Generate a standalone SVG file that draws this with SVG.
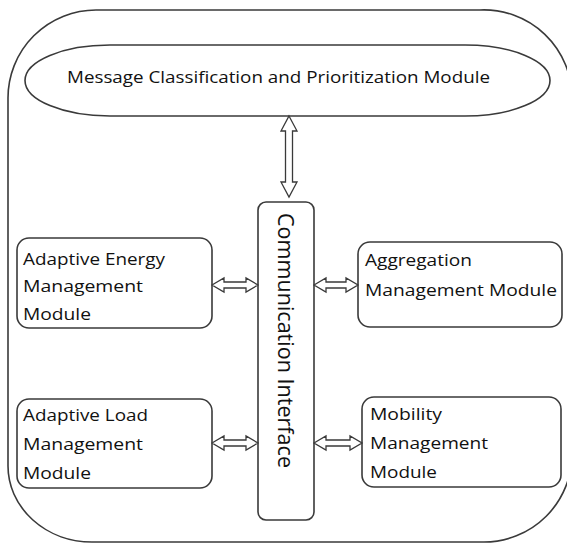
<svg xmlns="http://www.w3.org/2000/svg" width="567" height="543" viewBox="0 0 567 543">
<style>
  .frame{fill:none;stroke:#3a3a3a;stroke-width:1.6}
  .box{fill:#fff;stroke:#3a3a3a;stroke-width:1.6}
  .arrow{fill:#fff;stroke:#3a3a3a;stroke-width:1.3;stroke-linejoin:miter}
  .t{font-family:"Open Sans","Liberation Sans",sans-serif;font-size:16.5px;fill:#111}
  .tm{font-family:"Open Sans","Liberation Sans",sans-serif;font-size:17px;fill:#111}
  .tc{font-family:"Open Sans","Liberation Sans",sans-serif;font-size:22px;fill:#111}
</style>
<rect width="567" height="543" fill="#fff"/>
<g id="container">
  <path class="frame" d="M96,10 L480,10 A88,88 0 0 1 572,98 L572,454 A88,88 0 0 1 484,542 L92,542 A84,76 0 0 1 8,466 L8,98 A88,88 0 0 1 96,10 Z"/>
</g>
<g id="message-classification">
  <rect class="box" x="25" y="45" width="525" height="71" rx="85" ry="35.5"/>
  <text class="tm" x="67" y="83" textLength="423" lengthAdjust="spacingAndGlyphs">Message Classification and Prioritization Module</text>
</g>
<g id="communication-interface">
  <rect class="box" x="258" y="202" width="56" height="318" rx="8" ry="8"/>
  <text class="tc" transform="translate(278,213) rotate(90)" x="0" y="0" textLength="255" lengthAdjust="spacingAndGlyphs">Communication Interface</text>
</g>
<g id="adaptive-energy">
  <rect class="box" x="17" y="238" width="195" height="90" rx="12" ry="12"/>
  <text class="t" x="23" y="265" textLength="142" lengthAdjust="spacingAndGlyphs">Adaptive Energy</text>
  <text class="t" x="23" y="292" textLength="120" lengthAdjust="spacingAndGlyphs">Management</text>
  <text class="t" x="23" y="320" textLength="68" lengthAdjust="spacingAndGlyphs">Module</text>
</g>
<g id="aggregation">
  <rect class="box" x="358" y="242" width="204" height="85" rx="12" ry="12"/>
  <text class="t" x="365" y="266" textLength="107" lengthAdjust="spacingAndGlyphs">Aggregation</text>
  <text class="t" x="365" y="296" textLength="192" lengthAdjust="spacingAndGlyphs">Management Module</text>
</g>
<g id="adaptive-load">
  <rect class="box" x="17" y="399" width="195" height="89" rx="12" ry="12"/>
  <text class="t" x="23" y="421" textLength="125" lengthAdjust="spacingAndGlyphs">Adaptive Load</text>
  <text class="t" x="23" y="450" textLength="120" lengthAdjust="spacingAndGlyphs">Management</text>
  <text class="t" x="23" y="479" textLength="68" lengthAdjust="spacingAndGlyphs">Module</text>
</g>
<g id="mobility">
  <rect class="box" x="362" y="397" width="199" height="90" rx="12" ry="12"/>
  <text class="t" x="370" y="420" textLength="72" lengthAdjust="spacingAndGlyphs">Mobility</text>
  <text class="t" x="370" y="449" textLength="118" lengthAdjust="spacingAndGlyphs">Management</text>
  <text class="t" x="370" y="478" textLength="67" lengthAdjust="spacingAndGlyphs">Module</text>
</g>
<g id="connectors">
  <path class="arrow" d="M289,116 L297,131 L292.5,131 L292.5,182 L297,182 L289,197 L281,182 L285.5,182 L285.5,131 L281,131 Z"/>
  <path class="arrow" d="M212,285 L224,278 L224,282 L246,282 L246,278 L258,285 L246,292 L246,288 L224,288 L224,292 Z"/>
  <path class="arrow" d="M314,285 L326,278 L326,282 L346,282 L346,278 L358,285 L346,292 L346,288 L326,288 L326,292 Z"/>
  <path class="arrow" d="M212,443 L224,436 L224,440 L246,440 L246,436 L258,443 L246,450 L246,446 L224,446 L224,450 Z"/>
  <path class="arrow" d="M314,443 L326,436 L326,440 L350,440 L350,436 L362,443 L350,450 L350,446 L326,446 L326,450 Z"/>
</g>
</svg>
